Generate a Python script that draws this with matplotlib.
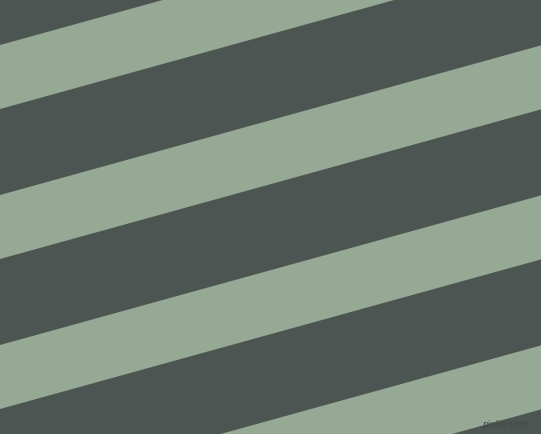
import matplotlib
matplotlib.use("Agg")
import matplotlib.pyplot as plt
import numpy as np

# Stripe geometry (pixel units)
width_px, height_px = 541, 435
stripe_top_left = [-104, 46, 196, 346, 496]   # y of each green stripe's upper edge at x=0
stripe_height = 64                              # vertical thickness of green stripes
drop_across = 149.6                             # how much edges rise from left to right
dark_color = "#4d5553"
light_color = "#96a994"

fig = plt.figure(figsize=(width_px / 100, height_px / 100), dpi=100)
ax = fig.add_axes([0, 0, 1, 1])
ax.set_facecolor(dark_color)
ax.set_xlim(0, width_px)
ax.set_ylim(height_px, 0)
ax.axis("off")
fig.patch.set_facecolor(dark_color)

x = np.array([0, width_px], dtype=float)
slope = drop_across / width_px
for top in stripe_top_left:
    y1 = top - slope * x
    y2 = top + stripe_height - slope * x
    ax.fill_between(x, y1, y2, color=light_color, linewidth=0, antialiased=True)

ax.text(528, 425, "pixlis.com", fontsize=6.5, color="#3f4644",
        ha="right", va="center", family="DejaVu Sans")

fig.savefig("out.png", dpi=100, facecolor=dark_color)
